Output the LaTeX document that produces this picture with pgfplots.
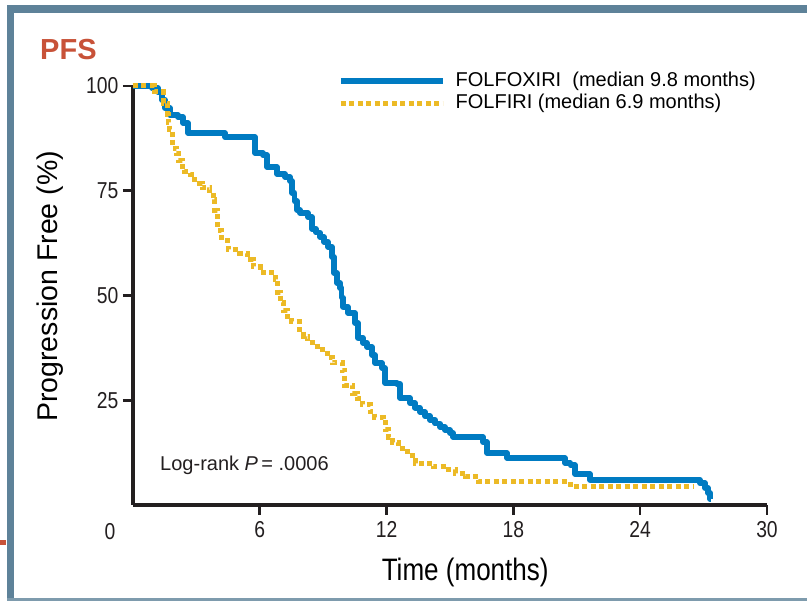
\documentclass[border=0pt]{standalone}
\usepackage{fontspec}
\setmainfont{Liberation Sans}
\newfontfamily\condfont[FakeStretch=0.84]{Liberation Sans}
\usepackage{pgfplots}
\pgfplotsset{compat=1.18}
\definecolor{frameblue}{RGB}{94,130,153}
\definecolor{pfsred}{RGB}{200,82,56}
\definecolor{kmblue}{RGB}{0,123,194}
\definecolor{kmyellow}{RGB}{236,186,38}
\definecolor{axisblack}{RGB}{35,31,32}
\begin{document}
\begin{tikzpicture}[x=1pt,y=1pt]
% picture box: px x -> (x-133), px y -> (505-y)
\useasboundingbox (-133,-96) rectangle (674,505);
\fill[white] (-133,-96) rectangle (674,505);
\fill[frameblue] (-126,492) rectangle (674,500);
\fill[frameblue] (-126,-96) rectangle (-119,500);
\fill[frameblue!80] (-126,-96) rectangle (674,-93);
\fill[pfsred] (-133,-35) rectangle (-127,-40);
\node[anchor=base west, inner sep=0pt, font=\bfseries\fontsize{29}{29}\selectfont, text=pfsred] at (-93,445) {PFS};
\begin{axis}[
  at={(0,0)}, anchor=south west,
  scale only axis, width=634pt, height=419pt,
  xmin=0, xmax=30, ymin=0, ymax=100,
  axis x line=bottom, axis y line=left,
  axis line style={-, line width=3.4pt, color=axisblack},
  xtick={6,12,18,24,30}, ytick={25,50,75,100},
  tick align=outside, major tick length=10pt,
  tick style={line width=2.6pt, color=axisblack},
  /pgf/number format/assume math mode=true,
  ticklabel style={font=\condfont\fontsize{23}{23}\selectfont, text=axisblack},
  xticklabel style={yshift=-3pt},
  yticklabel style={xshift=-1pt},
  xlabel={Time (months)},
  xlabel style={font=\condfont\fontsize{31}{31}\selectfont, at={(axis description cs:0.524,-0.16)}, anchor=center},
  ylabel={Progression Free (\%)},
  ylabel style={font=\fontsize{28.5}{28.5}\selectfont, at={(axis description cs:-0.131,0.522)}, anchor=center, rotate=0},
  clip=false,
  legend style={at={(axis cs:9.7,103.4)}, anchor=north west, draw=none, fill=none,
    inner sep=0pt, font=\fontsize{20}{20}\selectfont, row sep=4pt, column sep=10pt,
    nodes={inner sep=0pt, text height=14.5pt, text depth=4pt}},
  legend cell align=left,
  legend image code/.code={\draw[#1] (0pt,0pt) -- (102pt,0pt);},
]
\addplot[const plot, kmblue, line width=5.5pt, line join=round] coordinates {
(0,100) (0.9,99.5) (1.18,98.6) (1.37,96.7) (1.51,94.7) (1.75,93.1) (2.13,92.6)
(2.37,91.2) (2.60,88.8) (4.35,87.8) (5.77,84.0) (6.15,83.5) (6.34,80.7) (6.81,79.0)
(7.19,78.3) (7.43,77.3) (7.52,74.5) (7.64,72.5) (7.76,70.4) (7.90,69.7) (8.28,68.7)
(8.47,65.9) (8.66,65.0) (8.85,64.0) (9.03,62.8) (9.23,61.6) (9.42,59.2) (9.51,55.4)
(9.65,53.0) (9.80,51.8) (9.87,49.5) (9.94,47.3) (10.17,45.8) (10.51,43.4) (10.65,39.9)
(10.88,38.7) (11.07,37.7) (11.31,35.8) (11.45,33.9) (11.78,32.7) (11.93,29.1)
(12.49,28.9) (12.64,25.5) (13.11,24.3) (13.35,23.2) (13.58,22.2) (13.82,21.2) (14.06,20.3)
(14.30,19.4) (14.53,18.6) (14.77,17.9) (15.00,17.2) (15.14,16.2) (16.56,15.0)
(16.75,12.4) (17.70,11.2) (20.44,10.0) (20.7,9.5) (20.92,7.4) (21.63,6.0)
(26.83,5.2) (27.07,4.1) (27.21,2.9) (27.31,1.4) (27.32,1.4)
};
\addlegendentry{FOLFOXIRI\ \ (median 9.8 months)}
\addplot[const plot, kmyellow, line width=5pt, dash pattern=on 5pt off 3.5pt] coordinates {
(0,100) (1.0,98.6) (1.42,95.9) (1.61,93.1) (1.66,91.2) (1.75,89.5) (1.85,87.8)
(1.89,85.2) (2.08,84.0) (2.13,82.3) (2.32,80.7) (2.46,79.5) (2.70,78.8) (2.93,76.8)
(3.27,75.7) (3.64,74.5) (3.79,72.8) (3.88,70.4) (3.98,68.0) (4.02,65.6) (4.21,63.2)
(4.45,62.0) (4.50,60.9) (5.06,60.1) (5.40,58.5) (5.68,56.8) (6.01,55.6) (6.39,55.4)
(6.72,53.7) (6.86,50.8) (6.96,48.4) (7.10,46.5) (7.31,45.1) (7.52,43.7) (7.90,41.8)
(8.09,40.3) (8.28,38.9) (8.71,37.0) (9.18,35.3) (9.42,33.9) (9.89,32.2) (10.03,28.6)
(10.41,26.7) (10.62,25.3) (10.84,23.9) (11.22,22.2) (11.45,21.0) (11.83,20.3)
(11.93,17.9) (12.07,16.2) (12.30,15.0) (12.54,13.6) (12.97,11.9) (13.35,10.0)
(14.20,9.1) (14.67,8.4) (15.24,7.6) (15.71,6.7) (16.33,5.5) (20.68,4.3) (26.50,4.3)
};
\addlegendentry{FOLFIRI (median 6.9 months)}
\node[anchor=west, inner sep=0pt, font=\fontsize{20}{20}\selectfont, text=axisblack] at (axis cs:1.28,9.5) {Log-rank \textit{P}\,= .0006};
\node[anchor=center, inner sep=0pt, font=\condfont\fontsize{23}{23}\selectfont, text=axisblack] at (axis cs:-1.09,-6.4) {0};
\end{axis}
\end{tikzpicture}
\end{document}
